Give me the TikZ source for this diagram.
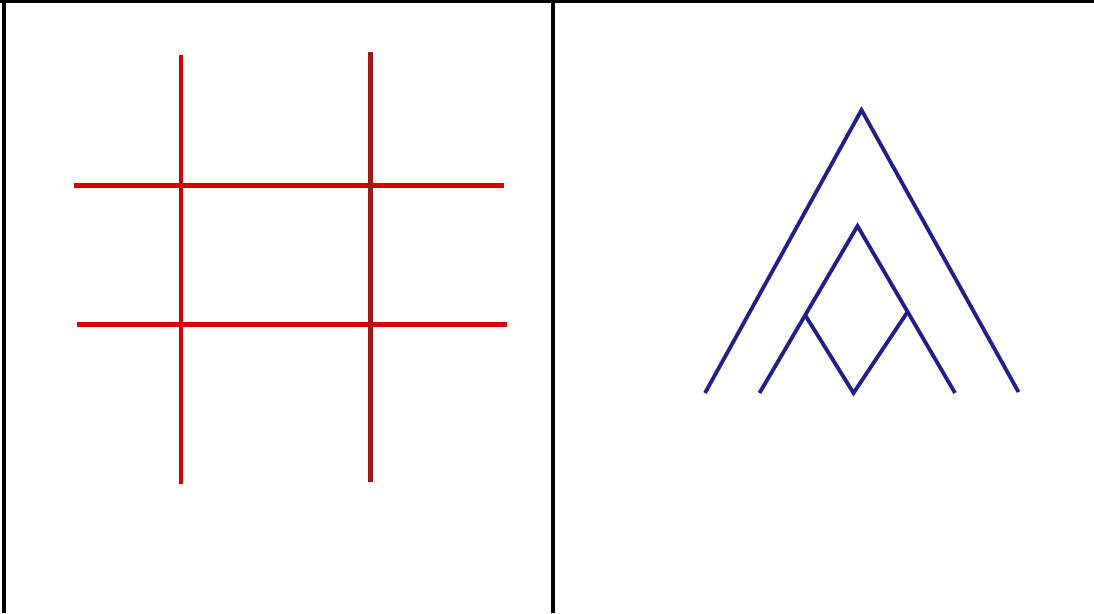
\documentclass[tikz,border=0pt]{standalone}
\usepackage{tikz}
\usetikzlibrary{calc}
\definecolor{gridred}{HTML}{D80000}
\definecolor{griddark}{HTML}{A01A1A}
\definecolor{tentblue}{HTML}{20208A}

\begin{document}
\begin{tikzpicture}[
    x=1pt, y=-1pt,
    rule/.style={line width=3.4pt, black},
    gridline/.style={line width=4.4pt, gridred},
    tentline/.style={line width=3.8pt, tentblue, line join=miter}
  ]
    \useasboundingbox (0,0) rectangle (1094,613);
    % table rules
    \coordinate (tl) at (0,1);
    \coordinate (tr) at (1094,1);
    \coordinate (lt) at (4,0);
    \coordinate (lb) at (4,613);
    \coordinate (mt) at (553,0);
    \coordinate (mb) at (553,613);
    \draw[rule] (tl) -- (tr);
    \draw[rule] (lt) -- (lb);
    \draw[rule] (mt) -- (mb);

    % left cell: the grid
    \coordinate (v1t) at (181,55);
    \coordinate (v1b) at (181,484);
    \coordinate (v2t) at (370.5,52);
    \coordinate (v2b) at (370.5,482);
    \coordinate (h1l) at (74,185.3);
    \coordinate (h1r) at (504,185.3);
    \coordinate (h2l) at (77,324.3);
    \coordinate (h2r) at (507,324.3);
    \draw[gridline] (h1l) -- (h1r);
    \draw[gridline] (h2l) -- (h2r);
    \draw[gridline] (v1t) -- (v1b);
    \draw[gridline, griddark] (v2t) -- (v2b);

    % right cell: nested tent
    \coordinate (oApex) at (861.5,110);
    \coordinate (oLeft) at (705,393);
    \coordinate (oRight) at (1018.5,392);
    \coordinate (iApex) at (857.5,226);
    \coordinate (iLeft) at (759.5,393);
    \coordinate (iRight) at (955,393);
    \coordinate (dLeft) at ($(iApex)!0.534!(iLeft)$);
    \coordinate (dRight) at ($(iApex)!0.514!(iRight)$);
    \coordinate (dBottom) at (853.5,393);
    \draw[tentline] (oLeft) -- (oApex) -- (oRight);
    \draw[tentline] (iLeft) -- (iApex) -- (iRight);
    \draw[tentline] (dLeft) -- (dBottom) -- (dRight);
\end{tikzpicture}
\end{document}
